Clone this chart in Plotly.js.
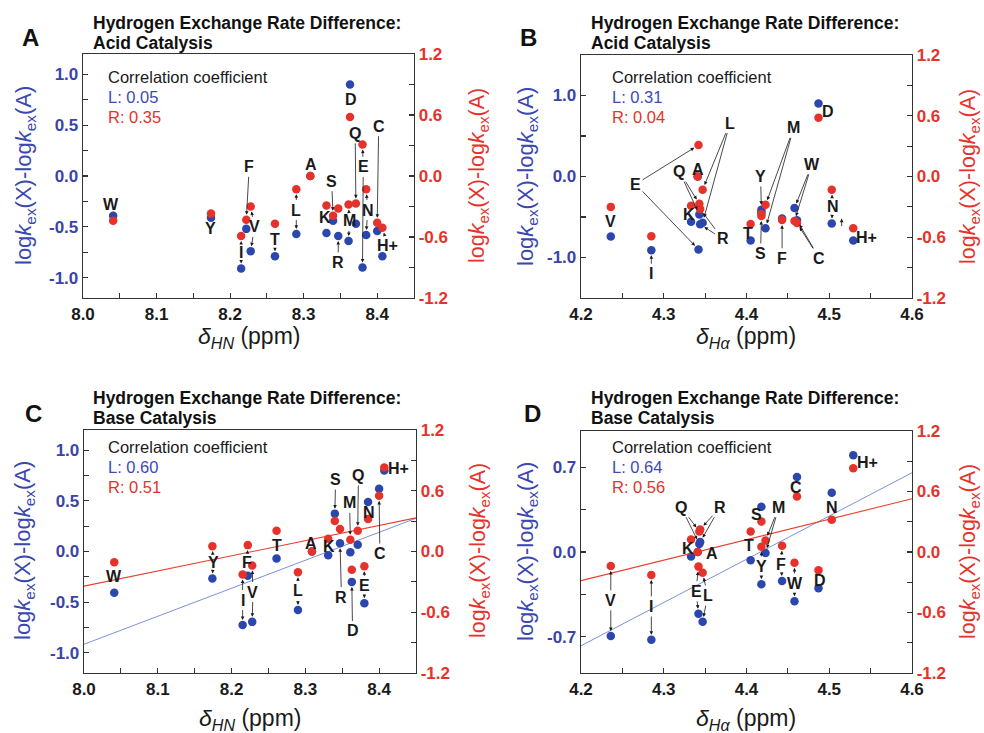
<!DOCTYPE html>
<html>
<head>
<meta charset="utf-8">
<script src="https://cdn.plot.ly/plotly-3.0.1.min.js"></script>
<style>html,body{margin:0;padding:0;background:#fff;}#chart{width:984px;height:733px;}</style>
</head>
<body>
<div id="chart"></div>
<script>
// ---------------- DATA ----------------
const residues = ['A','C','D','E','F','H+','I','K','L','M','N','Q','R','S','T','V','W','Y'];
const shiftHN  = [8.309, 8.400, 8.363, 8.380, 8.222, 8.407, 8.215, 8.331, 8.290, 8.361, 8.385, 8.371, 8.347, 8.340, 8.261, 8.228, 8.041, 8.174];
const shiftHa  = [4.341, 4.461, 4.487, 4.342, 4.443, 4.529, 4.285, 4.333, 4.347, 4.423, 4.503, 4.343, 4.344, 4.418, 4.405, 4.236, 4.458, 4.418];
const acidL    = [0, -0.54, 0.90, -0.90, -0.52, -0.79, -0.91, -0.56, -0.57, -0.64, -0.58, -0.47, -0.59, -0.44, -0.79, -0.74, -0.39, -0.41];
const acidR    = [0, -0.46, 0.58, 0.31, -0.43, -0.51, -0.59, -0.29, -0.13, -0.28, -0.13, -0.27, -0.32, -0.39, -0.47, -0.30, -0.44, -0.37];
const baseL    = [0, 0.62, -0.30, -0.51, -0.24, 0.80, -0.726, -0.037, -0.577, -0.008, 0.49, 0.066, 0.082, 0.374, -0.068, -0.695, -0.407, -0.266];
const baseR    = [0, 0.55, -0.18, -0.145, 0.063, 0.83, -0.227, 0.125, -0.205, 0.115, 0.32, 0.204, 0.223, 0.302, 0.204, -0.138, -0.107, 0.053];

const fitCx = [8.0, 8.45], fitCL = [-0.916, 0.328], fitCR = [-0.342, 0.332];
const fitDx = [4.2, 4.6],  fitDL = [-0.775, 0.655], fitDR = [-0.284, 0.528];

const corrA = ['0.05', '0.35'], corrB = ['0.31', '0.04'], corrC = ['0.60', '0.51'], corrD = ['0.64', '0.56'];

// tick labels
const ticksHN = [8.0, 8.05, 8.1, 8.15, 8.2, 8.25, 8.3, 8.35, 8.4, 8.45];
const ticksHNText = ['8.0','','8.1','','8.2','','8.3','','8.4',''];
const ticksHa = [4.2, 4.25, 4.3, 4.35, 4.4, 4.45, 4.5, 4.55, 4.6];
const ticksHaText = ['4.2','','4.3','','4.4','','4.5','','4.6'];
const ticksL1 = [-1.0, -0.75, -0.5, -0.25, 0, 0.25, 0.5, 0.75, 1.0];
const ticksL1Text = ['-1.0','','-0.5','','0.0','','0.5','','1.0'];
const ticksL2 = [-1.0, -0.5, 0, 0.5, 1.0];
const ticksL2Text = ['-1.0','','0.0','','1.0'];
const ticksL3 = [-0.7, -0.35, 0, 0.35, 0.7];
const ticksL3Text = ['-0.7','','0.0','','0.7'];
const ticksR = [-1.2, -0.9, -0.6, -0.3, 0, 0.3, 0.6, 0.9, 1.2];
const ticksRText = ['-1.2','','-0.6','','0.0','','0.6','','1.2'];

// label placements (x, y in left-axis units) and which points the arrows go to
const labelsA = [
 ['W',8.038,-0.28,''],['Y',8.174,-0.52,''],['I',8.215,-0.75,'LR'],['F',8.226,0.09,'R'],
 ['V',8.233,-0.50,'LR'],['T',8.261,-0.62,'LR'],['L',8.290,-0.335,'LR'],['A',8.310,0.11,''],
 ['K',8.329,-0.41,'LR'],['S',8.338,-0.05,'R'],['R',8.347,-0.85,'L'],['M',8.362,-0.44,'LR'],
 ['D',8.364,0.75,''],['Q',8.370,0.42,'R'],['E',8.381,0.09,'LR'],['N',8.387,-0.335,'LR'],
 ['C',8.402,0.49,'R'],['H+',8.414,-0.68,'LR']];
const labelsB = [
 ['V',4.236,-0.555,''],['I',4.285,-1.20,'L'],['E',4.266,-0.095,'LR'],['Q',4.319,0.06,'LR'],
 ['A',4.341,0.09,''],['L',4.380,0.66,'LR'],['K',4.331,-0.47,''],['R',4.371,-0.77,'LR'],
 ['T',4.402,-0.70,''],['Y',4.417,0.0,'L'],['S',4.417,-0.95,'R'],['M',4.457,0.60,'LR'],
 ['F',4.443,-1.01,'R'],['W',4.479,0.15,'LR'],['C',4.488,-1.01,'LR'],['D',4.498,0.80,''],
 ['N',4.504,-0.37,'LR'],['H+',4.545,-0.75,'']];
const labelsC = [
 ['W',8.041,-0.243,''],['Y',8.175,-0.105,'LR'],['I',8.215,-0.48,'LR'],['F',8.221,-0.105,'LR'],
 ['V',8.229,-0.40,'LR'],['T',8.261,0.062,'LR'],['L',8.290,-0.39,'LR'],['A',8.308,0.079,''],
 ['K',8.332,0.046,''],['S',8.341,0.71,'L'],['R',8.349,-0.45,'L'],['M',8.360,0.48,'R'],
 ['Q',8.372,0.75,'R'],['N',8.386,0.39,''],['C',8.401,-0.02,'R'],['D',8.364,-0.785,'L'],
 ['E',8.380,-0.34,'LR'],['H+',8.426,0.82,'']];
const labelsD = [
 ['V',4.236,-0.40,'LR'],['I',4.285,-0.45,'LR'],['Q',4.321,0.37,'LR'],['R',4.368,0.37,'LR'],
 ['K',4.329,0.027,''],['A',4.358,-0.011,''],['E',4.339,-0.325,'LR'],['L',4.353,-0.36,'LR'],
 ['T',4.403,0.057,''],['S',4.412,0.31,''],['M',4.439,0.37,'LR'],['Y',4.418,-0.12,'LR'],
 ['F',4.442,-0.106,'LR'],['W',4.458,-0.26,'LR'],['C',4.460,0.535,''],['D',4.489,-0.235,''],
 ['N',4.503,0.37,''],['H+',4.546,0.737,'']];

// ---------------- STYLE / LAYOUT ----------------
const W = 984, H = 733;
const FONT = 'Liberation Sans, Arial, Helvetica, sans-serif';
const BLUE = '#2b47ad', RED = '#e5332b', BLUE_T = '#3a44a8', RED_T = '#e5332b';
const AXC = '#333333';
const LABEL_SIZE = 16;
const fx = p => p / W, fy = p => 1 - p / H;

const panels = [
 {id:'A', xa:'x',  yl:'y',  yr:'y2', xs:shiftHN, L:acidL, R:acidR, labels:labelsA, box:{l:83,r:414,t:54,b:298},
  xr:[8.0,8.45], ylr:[-1.2,1.2], yt:[ticksL1,ticksL1Text], xt:[ticksHN,ticksHNText], sub:'Acid Catalysis', corr:corrA,
  letter:[30,37], title:[91,23], corrPos:[106,77], ylt:[25,176], yrt:[478,176], xtt:[249,338], xsub:'HN'},
 {id:'B', xa:'x2', yl:'y3', yr:'y4', xs:shiftHa, L:acidL, R:acidR, labels:labelsB, box:{l:581,r:912,t:55,b:298},
  xr:[4.2,4.6], ylr:[-1.5,1.5], yt:[ticksL2,ticksL2Text], xt:[ticksHa,ticksHaText], sub:'Acid Catalysis', corr:corrB,
  letter:[528,37], title:[589,23], corrPos:[610,77], ylt:[527,177], yrt:[969,177], xtt:[746,338], xsub:'Hα'},
 {id:'C', xa:'x3', yl:'y5', yr:'y6', xs:shiftHN, L:baseL, R:baseR, labels:labelsC, box:{l:84,r:416,t:430,b:673},
  xr:[8.0,8.45], ylr:[-1.2,1.2], yt:[ticksL1,ticksL1Text], xt:[ticksHN,ticksHNText], sub:'Base Catalysis', corr:corrC,
  letter:[33,413], title:[91,398], corrPos:[106,447], ylt:[24,551], yrt:[479,551], xtt:[250,719], xsub:'HN',
  fit:[fitCx, fitCL, fitCR]},
 {id:'D', xa:'x4', yl:'y7', yr:'y8', xs:shiftHa, L:baseL, R:baseR, labels:labelsD, box:{l:581,r:912,t:431,b:673},
  xr:[4.2,4.6], ylr:[-1.0,1.0], yt:[ticksL3,ticksL3Text], xt:[ticksHa,ticksHaText], sub:'Base Catalysis', corr:corrD,
  letter:[532,413], title:[589,398], corrPos:[610,447], ylt:[527,552], yrt:[969,552], xtt:[746,719], xsub:'Hα',
  fit:[fitDx, fitDL, fitDR]}
];
const rightRange = [-1.2, 1.2];

const traces = [];
const layout = {
  width: W, height: H, margin:{l:0,r:0,t:0,b:0}, showlegend:false,
  paper_bgcolor:'#fff', plot_bgcolor:'rgba(0,0,0,0)', font:{family:FONT}, annotations:[]
};
const ann = layout.annotations;
const yTitle = 'log<i>k</i><sub>ex</sub>(X)-log<i>k</i><sub>ex</sub>(A)';

panels.forEach(p => {
  const xn = p.xa === 'x' ? 'xaxis' : 'xaxis' + p.xa.slice(1);
  const yln = p.yl === 'y' ? 'yaxis' : 'yaxis' + p.yl.slice(1);
  const yrn = 'yaxis' + p.yr.slice(1);
  const xd = [fx(p.box.l), fx(p.box.r)], yd = [fy(p.box.b), fy(p.box.t)];
  const common = {showgrid:false, zeroline:false, showline:true, linecolor:AXC, linewidth:1.3,
                  ticks:'inside', ticklen:5, tickwidth:1.1, tickcolor:AXC, tickmode:'array'};
  layout[xn] = Object.assign({}, common, {domain:xd, anchor:p.yl, range:p.xr, mirror:true,
      tickvals:p.xt[0], ticktext:p.xt[1], tickfont:{family:FONT, size:17, color:'#1a1a1a', weight:700}});
  layout[yln] = Object.assign({}, common, {domain:yd, anchor:p.xa, range:p.ylr, side:'left',
      tickvals:p.yt[0], ticktext:p.yt[1], tickfont:{family:FONT, size:17, color:BLUE_T, weight:700}});
  layout[yrn] = Object.assign({}, common, {domain:yd, anchor:p.xa, range:rightRange, side:'right', overlaying:p.yl,
      tickvals:ticksR, ticktext:ticksRText, tickfont:{family:FONT, size:17, color:RED_T, weight:700}});

  if (p.fit) {
    traces.push({type:'scatter', mode:'lines', x:p.fit[0], y:p.fit[1], xaxis:p.xa, yaxis:p.yl,
                 line:{color:'#7f8fdb', width:1}, hoverinfo:'skip'});
    traces.push({type:'scatter', mode:'lines', x:p.fit[0], y:p.fit[2], xaxis:p.xa, yaxis:p.yr,
                 line:{color:'#e8412f', width:1.1}, hoverinfo:'skip'});
  }
  traces.push({type:'scatter', mode:'markers', x:p.xs, y:p.L, text:residues, xaxis:p.xa, yaxis:p.yl,
               marker:{color:BLUE, size:8.5}, cliponaxis:false});
  traces.push({type:'scatter', mode:'markers', x:p.xs, y:p.R, text:residues, xaxis:p.xa, yaxis:p.yr,
               marker:{color:RED, size:8.5}, cliponaxis:false});

  // residue labels and arrows
  const scale = p.ylr[1] / rightRange[1];
  p.labels.forEach(([t, lx, ly, to]) => {
    const i = residues.indexOf(t);
    const base = {xref:p.xa, yref:p.yl, axref:p.xa, ayref:p.yl, ax:lx, ay:ly,
                  text:'<b>'+t+'</b>', font:{family:FONT, size:LABEL_SIZE, color:'#1a1a1a'},
                  arrowhead:2, arrowsize:0.9, arrowwidth:0.8, arrowcolor:'#1a1a1a', standoff:5};
    if (!to) {
      ann.push({xref:p.xa, yref:p.yl, x:lx, y:ly, text:'<b>'+t+'</b>', showarrow:false,
                font:{family:FONT, size:LABEL_SIZE, color:'#1a1a1a'}});
      return;
    }
    to.split('').forEach((s, k) => {
      const ty = s === 'L' ? p.L[i] : p.R[i] * scale;
      const a = Object.assign({}, base, {x:p.xs[i], y:ty, showarrow:true});
      if (k > 0) a.font = {family:FONT, size:LABEL_SIZE, color:'rgba(0,0,0,0)'};
      ann.push(a);
    });
  });

  // text elements
  ann.push({xref:'paper', yref:'paper', x:fx(p.letter[0]), y:fy(p.letter[1]), xanchor:'center', yanchor:'middle',
            text:'<b>'+p.id+'</b>', showarrow:false, font:{family:FONT, size:24, color:'#111'}});
  ann.push({xref:'paper', yref:'paper', x:fx(p.title[0]), y:fy(p.title[1]), xanchor:'left', yanchor:'middle',
            text:'<b>Hydrogen Exchange Rate Difference:</b>', showarrow:false, font:{family:FONT, size:17.5, color:'#111'}});
  ann.push({xref:'paper', yref:'paper', x:fx(p.title[0]), y:fy(p.title[1]+20), xanchor:'left', yanchor:'middle',
            text:'<b>'+p.sub+'</b>', showarrow:false, font:{family:FONT, size:17.5, color:'#111'}});
  ann.push({xref:'paper', yref:'paper', x:fx(p.corrPos[0]), y:fy(p.corrPos[1]), xanchor:'left', yanchor:'middle',
            text:'Correlation coefficient', showarrow:false, font:{family:FONT, size:16.5, color:'#1a1a1a'}});
  ann.push({xref:'paper', yref:'paper', x:fx(p.corrPos[0]), y:fy(p.corrPos[1]+20), xanchor:'left', yanchor:'middle',
            text:'L: '+p.corr[0], showarrow:false, font:{family:FONT, size:16.5, color:'#3d4ab3'}});
  ann.push({xref:'paper', yref:'paper', x:fx(p.corrPos[0]), y:fy(p.corrPos[1]+40), xanchor:'left', yanchor:'middle',
            text:'R: '+p.corr[1], showarrow:false, font:{family:FONT, size:16.5, color:RED_T}});
  ann.push({xref:'paper', yref:'paper', x:fx(p.ylt[0]), y:fy(p.ylt[1]), xanchor:'center', yanchor:'middle', textangle:-90,
            text:yTitle, showarrow:false, font:{family:FONT, size:22, color:'#3a48b0'}});
  ann.push({xref:'paper', yref:'paper', x:fx(p.yrt[0]), y:fy(p.yrt[1]), xanchor:'center', yanchor:'middle', textangle:-90,
            text:yTitle, showarrow:false, font:{family:FONT, size:21.5, color:RED_T}});
  ann.push({xref:'paper', yref:'paper', x:fx(p.xtt[0]), y:fy(p.xtt[1]), xanchor:'center', yanchor:'middle',
            text:'<i>δ</i><sub><i>'+p.xsub+'</i></sub> (ppm)', showarrow:false, font:{family:FONT, size:23, color:'#1a1a1a'}});
});

// small stray arrow in panel B near N
ann.push({xref:'x2', yref:'y3', x:4.515, y:-0.52, ax:0, ay:9, text:'', showarrow:true,
          arrowhead:2, arrowsize:0.9, arrowwidth:0.8, arrowcolor:'#1a1a1a'});

Plotly.newPlot('chart', traces, layout, {staticPlot:true});
</script>
</body>
</html>
